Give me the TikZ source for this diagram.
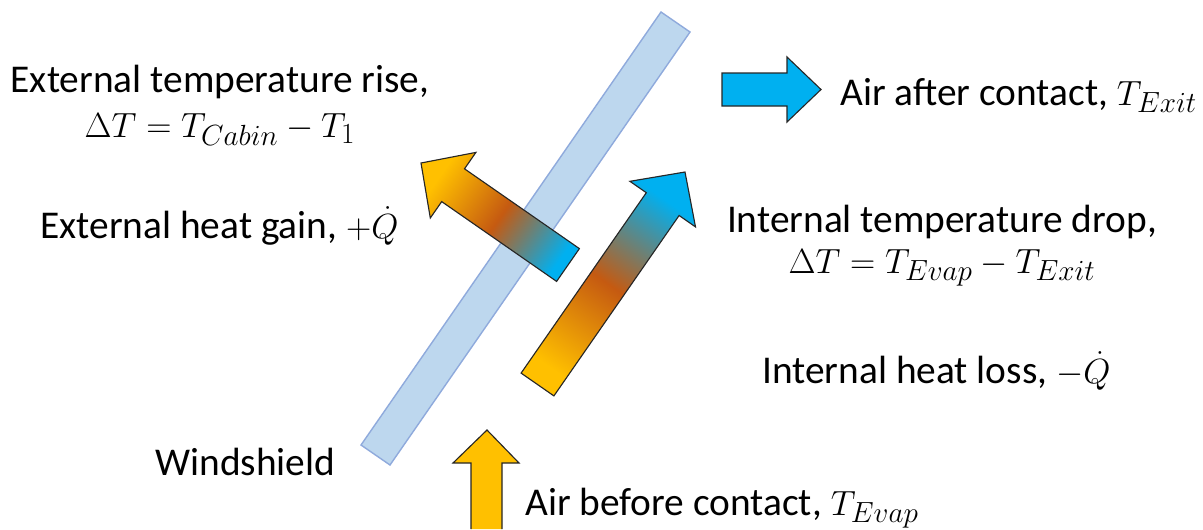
\documentclass[tikz,border=0pt]{standalone}
\usepackage{fontspec}
\setmainfont{Carlito}

\definecolor{glassfill}{HTML}{BDD7EE}
\definecolor{glassline}{HTML}{8FAADC}
\definecolor{warmyellow}{HTML}{FFC000}
\definecolor{burnt}{HTML}{C55A11}
\definecolor{coolblue}{HTML}{00B0F0}

\tikzset{
  lbl/.style={font=\fontsize{28}{29}\selectfont, inner sep=0pt},
  fatarrow/.style={draw=black!85, line width=0.8pt, line join=miter}
}

\begin{document}
\begin{tikzpicture}[x=0.025cm, y=-0.025cm]
  \useasboundingbox (0,0) rectangle (1203,529);

  % --- parabrezza ---
  \draw[fill=glassfill, draw=glassline, line width=1pt]
    (661,12) -- (690,32) -- (390,465) -- (361,445) -- cycle;
  \node[lbl, anchor=base west] (windlbl) at (155,475) {Windshield};

  % --- freccia esterna (calore in uscita) ---
  \shade[fatarrow, bottom color=coolblue, top color=warmyellow,
         middle color=burnt, shading angle=55]
    (579.4,248.6) -- (464.5,168.8) -- (475.9,152.4) -- (421,163)
    -- (430.3,218) -- (441.7,201.6) -- (556.6,281.4) -- cycle;

  % --- freccia interna (aria lungo il vetro) ---
  \shade[fatarrow, bottom color=warmyellow, top color=coolblue,
         middle color=burnt, shading angle=-35]
    (553.9,395.9) -- (679.1,215.5) -- (695.5,226.9) -- (685,172)
    -- (629.9,181.3) -- (646.3,192.7) -- (521.1,373.1) -- cycle;

  % --- aria in ingresso ---
  \draw[fatarrow, fill=warmyellow]
    (471,529) -- (471,463) -- (453,463) -- (487,430)
    -- (519,463) -- (502,463) -- (502,529);

  % --- aria in uscita ---
  \draw[fatarrow, fill=coolblue]
    (722,73) -- (787,73) -- (787,57) -- (821,89.5)
    -- (787,122) -- (787,106) -- (722,106) -- cycle;

  % --- testi ---
  \node[lbl, anchor=base, align=center] (extrise) at (220,137)
    {External temperature rise,\\[3pt] $\Delta T = T_{Cabin} - T_1$};
  \node[lbl, anchor=base west] (extgain) at (40,238)
    {External heat gain, $+\dot{Q}$};
  \node[lbl, anchor=base west] (airafter) at (840,105)
    {Air after contact, $T_{Exit}$};
  \node[lbl, anchor=base, align=center] (intdrop) at (942,273)
    {Internal temperature drop,\\ $\Delta T = T_{Evap} - T_{Exit}$};
  \node[lbl, anchor=base west] (intloss) at (762,383)
    {Internal heat loss, $-\dot{Q}$};
  \node[lbl, anchor=base west] (airbefore) at (525,515)
    {Air before contact, $T_{Evap}$};
\end{tikzpicture}
\end{document}
